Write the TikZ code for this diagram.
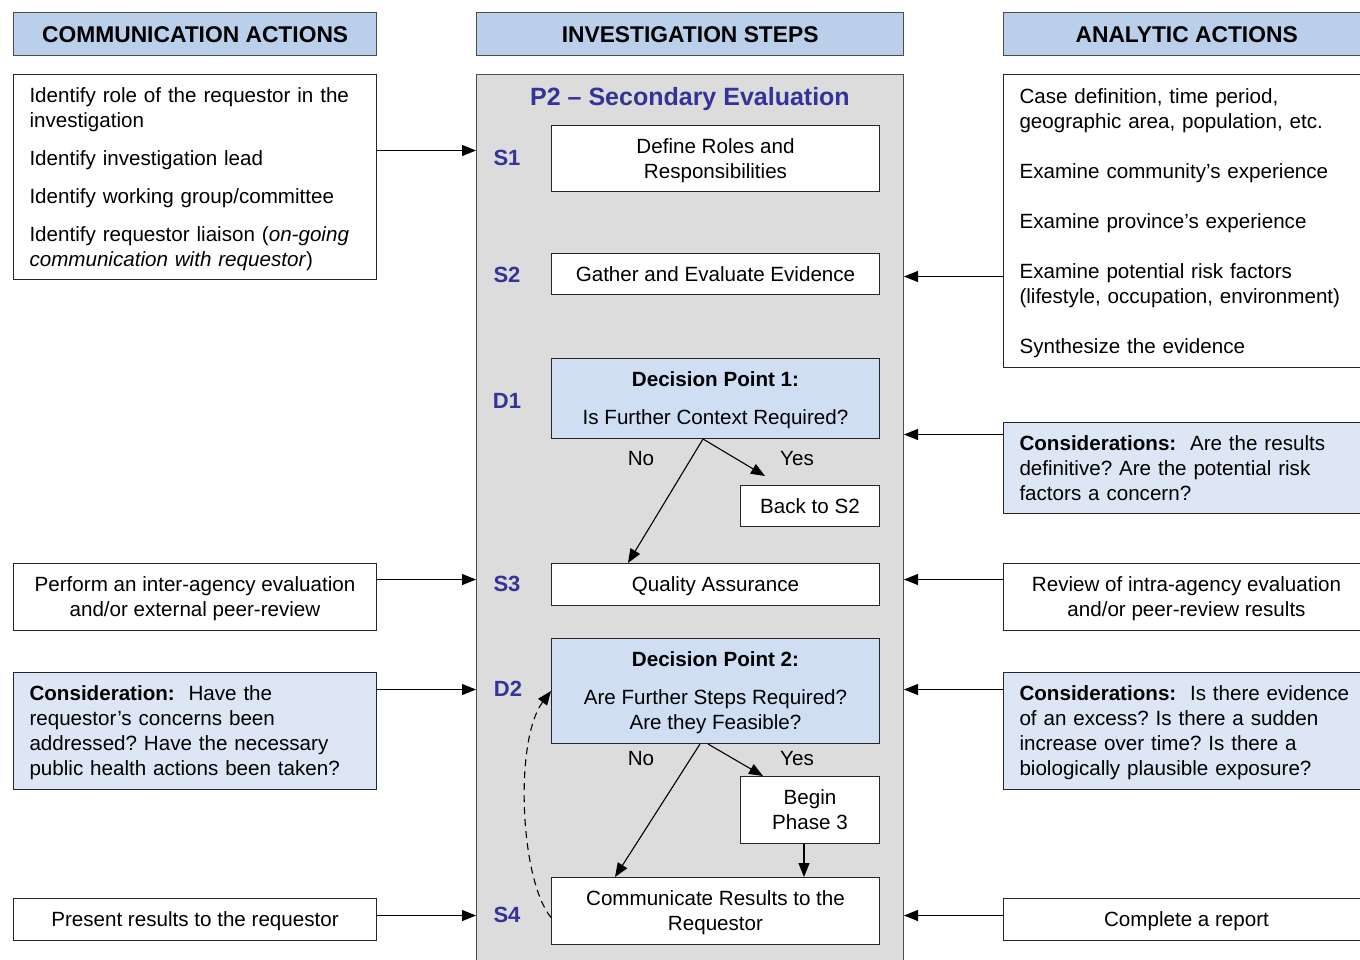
\documentclass[tikz,border=0pt]{standalone}
\usepackage{fontspec}
\setmainfont{Liberation Sans}
\usetikzlibrary{arrows.meta,calc}
\definecolor{hdrblue}{HTML}{BACFEA}
\definecolor{dpblue}{HTML}{CFDEF3}
\definecolor{conblue}{HTML}{DCE6F4}
\definecolor{panelgray}{HTML}{DCDCDC}
\definecolor{titleblue}{HTML}{333399}
\newcommand{\bodyfont}{\fontsize{20.6}{25}\selectfont}
\newcommand{\astr}{\rule{0pt}{18.6pt}}
\newcommand{\dstr}{\rule[-4.4pt]{0pt}{4.4pt}}
\frenchspacing
\begin{document}
\begin{tikzpicture}[x=1pt,y=-1pt,
  hdr/.style={draw=black!70, line width=1.3pt, fill=hdrblue, anchor=north west, minimum height=43pt, inner sep=0pt, font=\fontsize{22.8}{26}\selectfont\bfseries},
  bx/.style={draw=black!85, line width=1pt, fill=white, anchor=north west, inner xsep=16pt, inner ysep=0pt, font=\bodyfont},
  lbl/.style={font=\fontsize{22}{26}\selectfont\bfseries, text=titleblue},
  arr/.style={line width=1.1pt, -{Triangle[length=14pt,width=11pt]}},
  small/.style={font=\bodyfont, inner sep=0pt}
]
\useasboundingbox (0,0) rectangle (1360,959);
\fill[white] (0,0) rectangle (1360,959);

% headers
\node[hdr, minimum width=363pt] (hcom) at (13,12) {COMMUNICATION ACTIONS};
\node[hdr, minimum width=427pt] (hinv) at (476,12) {INVESTIGATION STEPS};
\node[hdr, minimum width=366pt] (hana) at (1003,12) {ANALYTIC ACTIONS};

% central panel
\node[draw=black!70, line width=1pt, fill=panelgray, anchor=north west, minimum width=427pt, minimum height=900pt, inner sep=0pt] (panel) at (476,74) {};
\node[font=\fontsize{25}{30}\selectfont\bfseries, text=titleblue] (title) at (690,99.5) {P2 – Secondary Evaluation};

\node[bx, minimum width=328pt, minimum height=66pt, align=center] (s1) at (551,125) {\astr Define Roles and\\Responsibilities\dstr};
\node[bx, minimum width=328pt, minimum height=41pt] (s2) at (551,253) {\astr Gather and Evaluate Evidence\dstr};
\node[bx, fill=dpblue, minimum width=328pt, minimum height=80pt, align=center] (d1) at (551,358) {\astr\textbf{Decision Point 1:}\\[13pt]Is Further Context Required?\dstr};
\node[bx, minimum width=139pt, minimum height=41pt] (back) at (740,485) {\astr Back to S2\dstr};
\node[bx, minimum width=328pt, minimum height=42pt] (s3) at (551,563) {\astr Quality Assurance\dstr};
\node[bx, fill=dpblue, minimum width=328pt, minimum height=105pt, align=center] (d2) at (551,638) {\astr\textbf{Decision Point 2:}\\[13pt]Are Further Steps Required?\\Are they Feasible?\dstr};
\node[bx, minimum width=139pt, minimum height=67pt, align=center] (p3) at (740,776) {\astr Begin\\Phase 3\dstr};
\node[bx, minimum width=328pt, minimum height=67pt, align=center] (s4) at (551,877) {\astr Communicate Results to the\\Requestor\dstr};

\node[lbl] (ls1) at (507,158) {S1};
\node[lbl] (ls2) at (507,275) {S2};
\node[lbl] (ld1) at (507,401) {D1};
\node[lbl] (ls3) at (507,584) {S3};
\node[lbl] (ld2) at (508,689) {D2};
\node[lbl] (ls4) at (507,915) {S4};

\node[small] (no1) at (641,459) {No};
\node[small] (yes1) at (797,459) {Yes};
\node[small] (no2) at (641,759) {No};
\node[small] (yes2) at (797,759) {Yes};

\coordinate (d1yes) at (765,476);
\draw[arr] ([xshift=152pt]d1.south west) -- ([xshift=77pt]s3.north west);
\draw[arr] ([xshift=152pt]d1.south west) -- (d1yes);
\draw[arr] ([xshift=149pt]d2.south west) -- ([xshift=64pt]s4.north west);
\draw[arr] ([xshift=157pt]d2.south west) -- ([xshift=23pt]p3.north west);
\draw[arr] ([xshift=64pt]p3.south west) -- ([xshift=64pt]p3.south west |- s4.north);
\draw[line width=1.1pt, dash pattern=on 7pt off 5pt, -{Triangle[length=14pt,width=11pt]}]
  ([yshift=-6.5pt]s4.west) .. controls (520,880) and (514,740) .. (d2.west);

% left column
\node[bx, minimum height=205pt, text width=331pt, align=left] (l1) at (13,74) {\astr Identify role of the requestor in the\\investigation\\[13pt]Identify investigation lead\\[13pt]Identify working group/committee\\[13pt]Identify requestor liaison (\textit{on-going}\\\textit{communication with requestor})\dstr};
\node[bx, minimum width=363pt, minimum height=67pt, align=center] (l3) at (13,563) {\astr Perform an inter-agency evaluation\\and/or external peer-review\dstr};
\node[bx, fill=conblue, minimum height=117pt, text width=331pt, align=left] (l4) at (13,672) {\astr\textbf{Consideration:}~ Have the\\requestor’s concerns been\\addressed? Have the necessary\\public health actions been taken?\dstr};
\node[bx, minimum width=363pt, minimum height=42pt] (l5) at (13,898) {\astr Present results to the requestor\dstr};

% right column
\node[bx, minimum height=293pt, text width=334pt, align=left] (r1) at (1003,74) {\astr Case definition, time period,\\geographic area, population, etc.\\[25pt]Examine community’s experience\\[25pt]Examine province’s experience\\[25pt]Examine potential risk factors\\(lifestyle, occupation, environment)\\[25pt]Synthesize the evidence\dstr};
\node[bx, fill=conblue, minimum height=91pt, text width=334pt, align=left] (r2) at (1003,422) {\astr\textbf{Considerations:}~ Are the results\\definitive? Are the potential risk\\factors a concern?\dstr};
\node[bx, minimum width=366pt, minimum height=67pt, align=center] (r3) at (1003,563) {\astr Review of intra-agency evaluation\\and/or peer-review results\dstr};
\node[bx, fill=conblue, minimum height=117pt, text width=334pt, align=left] (r4) at (1003,672) {\astr\textbf{Considerations:}~ Is there evidence\\of an excess? Is there a sudden\\increase over time? Is there a\\biologically plausible exposure?\dstr};
\node[bx, minimum width=366pt, minimum height=42pt] (r5) at (1003,898) {\astr Complete a report\dstr};

% side arrows
\draw[arr] ([yshift=26.5pt]l1.east) -- ([yshift=26.5pt]l1.east -| panel.west);
\draw[arr] ([yshift=17.5pt]l3.east) -- ([yshift=17.5pt]l3.east -| panel.west);
\draw[arr] ([yshift=41.5pt]l4.east) -- ([yshift=41.5pt]l4.east -| panel.west);
\draw[arr] ([yshift=4pt]l5.east) -- ([yshift=4pt]l5.east -| panel.west);
\draw[arr] ([yshift=-55.5pt]r1.west) -- ([yshift=-55.5pt]r1.west -| panel.east);
\draw[arr] ([yshift=33.5pt]r2.west) -- ([yshift=33.5pt]r2.west -| panel.east);
\draw[arr] ([yshift=17.5pt]r3.west) -- ([yshift=17.5pt]r3.west -| panel.east);
\draw[arr] ([yshift=41.5pt]r4.west) -- ([yshift=41.5pt]r4.west -| panel.east);
\draw[arr] ([yshift=4pt]r5.west) -- ([yshift=4pt]r5.west -| panel.east);
\end{tikzpicture}
\end{document}
